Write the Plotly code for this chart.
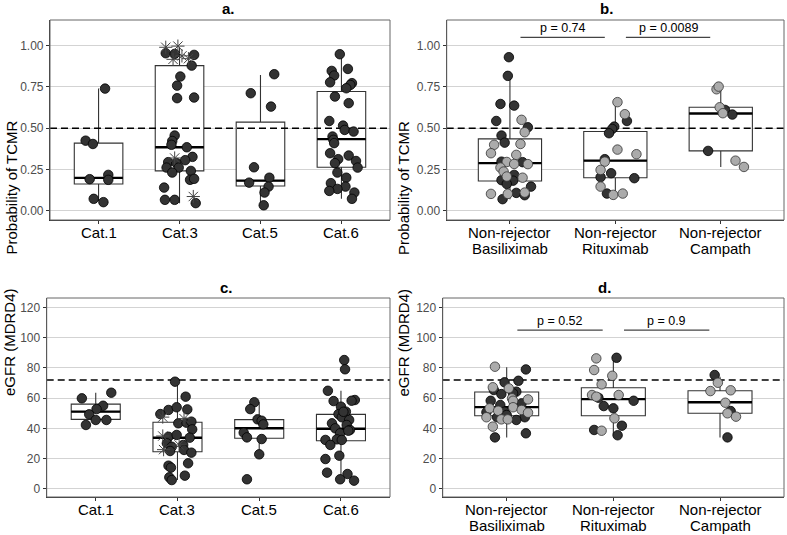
import plotly.graph_objects as go

# ---------------- data ----------------
CATS_AC = ["Cat.1", "Cat.3", "Cat.5", "Cat.6"]
CATS_BD = [["Non-rejector", "Basiliximab"], ["Non-rejector", "Rituximab"], ["Non-rejector", "Campath"]]

# Panel a: Probability of TCMR by category
A_Q1 = [0.163, 0.242, 0.151, 0.264]
A_MED = [0.200, 0.385, 0.183, 0.434]
A_Q3 = [0.410, 0.879, 0.537, 0.722]
A_LO = [0.060, 0.047, 0.034, 0.073]
A_HI = [0.740, 0.990, 0.823, 0.948]
A_VALS = [
    [0.740, 0.425, 0.405, 0.192, 0.218, 0.188, 0.073, 0.053],
    [0.954, 0.950, 0.944, 0.879, 0.813, 0.758, 0.682, 0.686, 0.456, 0.423, 0.400, 0.385, 0.327,
     0.307, 0.295, 0.290, 0.262, 0.262, 0.232, 0.242, 0.188, 0.194, 0.141, 0.067, 0.067, 0.047],
    [0.827, 0.712, 0.631, 0.264, 0.171, 0.201, 0.147, 0.111, 0.034],
    [0.948, 0.847, 0.859, 0.819, 0.778, 0.773, 0.762, 0.742, 0.692, 0.652, 0.544, 0.516, 0.490,
     0.480, 0.450, 0.430, 0.410, 0.349, 0.335, 0.313, 0.289, 0.302, 0.262, 0.232, 0.201, 0.168,
     0.147, 0.133, 0.121, 0.111, 0.073],
]
A_JIT = [
    [0.08, -0.16, -0.07, -0.11, 0.12, 0.12, -0.06, 0.06],
    [-0.17, -0.06, 0.18, 0.15, 0.01, -0.03, -0.03, 0.18, -0.06, -0.09, -0.10, 0.09, 0.16,
     0.07, -0.14, -0.04, -0.16, -0.01, -0.09, 0.14, 0.13, 0.18, -0.19, -0.18, -0.06, 0.20],
    [0.17, -0.12, 0.13, -0.08, -0.14, 0.11, 0.10, 0.05, 0.04],
    [-0.02, -0.12, 0.08, -0.09, -0.14, 0.13, 0.11, 0.06, -0.08, 0.09, -0.15, 0.02, 0.04,
     0.15, -0.11, -0.10, -0.09, -0.14, 0.09, -0.04, -0.08, 0.18, 0.20, -0.05, 0.06, -0.13,
     0.05, -0.05, -0.15, 0.16, 0.13],
]
A_STAR_CAT = [2, 2, 2, 2, 2, 2, 2]
A_STAR_VALS = [0.990, 0.997, 0.917, 0.938, 0.921, 0.320, 0.087]
A_STAR_JIT = [-0.17, -0.02, -0.08, 0.03, 0.11, -0.06, 0.17]

# Panel b: Probability of TCMR by treatment (dark / light points)
B_Q1 = [0.181, 0.201, 0.363]
B_MED = [0.289, 0.304, 0.589]
B_Q3 = [0.436, 0.480, 0.627]
B_LO = [0.071, 0.097, 0.266]
B_HI = [0.817, 0.658, 0.748]
B_DARK_VALS = [
    [0.930, 0.817, 0.647, 0.637, 0.544, 0.506, 0.456, 0.413, 0.298, 0.295, 0.218, 0.186, 0.183,
     0.163, 0.147, 0.109, 0.095, 0.071],
    [0.544, 0.510, 0.496, 0.470, 0.313, 0.228, 0.204, 0.198, 0.105],
    [0.611, 0.583, 0.363],
]
B_DARK_JIT = [
    [-0.01, -0.02, -0.09, 0.04, -0.13, 0.17, -0.08, -0.05, -0.08, 0.12, 0.04, -0.08, 0.03,
     -0.03, 0.20, 0.06, 0.14, -0.07],
    [0.11, -0.01, -0.03, -0.06, -0.10, -0.04, -0.14, 0.18, -0.08],
    [0.04, 0.11, -0.12],
]
B_LIGHT_VALS = [
    [0.551, 0.476, 0.400, 0.405, 0.349, 0.339, 0.296, 0.284, 0.283, 0.262, 0.238, 0.208, 0.201,
     0.103, 0.103, 0.111],
    [0.658, 0.585, 0.371, 0.343, 0.298, 0.248, 0.147, 0.097, 0.105],
    [0.736, 0.752, 0.627, 0.591, 0.304, 0.266],
]
B_LIGHT_JIT = [
    [0.11, 0.14, -0.15, 0.10, -0.18, 0.06, -0.03, 0.04, 0.17, -0.09, -0.06, -0.03, 0.12,
     -0.18, -0.02, 0.14],
    [0.02, 0.09, 0.02, 0.20, -0.10, -0.14, -0.14, -0.02, 0.07],
    [-0.04, -0.02, -0.01, 0.02, 0.14, 0.22],
]
B_PVALS = ["p = 0.74", "p = 0.0089"]
B_PAIRS = [(1, 2), (2, 3)]
B_BRACKET_Y = 1.05

# Panel c: eGFR by category
C_Q1 = [46.0, 24.6, 33.5, 31.9]
C_MED = [51.1, 33.9, 40.1, 39.8]
C_Q3 = [56.1, 44.1, 45.8, 49.3]
C_LO = [42.7, 5.9, 22.9, 5.9]
C_HI = [63.6, 70.9, 57.3, 64.9]
C_VALS = [
    [59.9, 63.6, 55.0, 52.8, 49.3, 42.3, 45.6, 45.6],
    [70.9, 61.0, 52.2, 54.0, 52.6, 49.5, 43.4, 43.8, 44.5, 39.4, 34.5, 35.7, 33.9, 30.2, 27.9,
     29.1, 25.1, 25.8, 24.0, 17.0, 15.4, 14.1, 7.7, 5.9, 8.8],
    [57.3, 52.8, 46.0, 45.1, 42.7, 37.2, 34.1, 33.0, 22.9, 6.4],
    [85.2, 79.1, 64.9, 58.1, 58.8, 58.3, 54.4, 49.5, 51.1, 47.4, 45.6, 43.4, 42.3, 40.1, 39.0,
     36.8, 32.4, 32.8, 32.4, 29.1, 19.8, 22.0, 10.8, 9.9, 6.4, 5.5, 51.0, 38.5],
]
C_JIT = [
    [-0.17, 0.19, 0.09, 0.01, -0.08, -0.12, 0.00, 0.13],
    [-0.03, 0.10, -0.11, -0.01, 0.12, -0.21, 0.01, 0.11, 0.17, 0.18, -0.11, -0.01, 0.15, -0.13,
     -0.07, 0.07, -0.09, 0.08, 0.17, 0.13, -0.11, -0.08, -0.10, -0.07, 0.09],
    [-0.06, -0.11, -0.02, 0.03, 0.05, -0.19, -0.15, 0.03, 0.00, -0.15],
    [0.04, 0.05, -0.16, -0.09, 0.17, 0.13, 0.00, -0.03, 0.06, 0.01, 0.10, -0.11, 0.07, -0.07,
     0.11, -0.01, -0.19, -0.05, 0.01, -0.13, -0.19, -0.02, -0.17, 0.08, -0.01, 0.16, 0.03, 0.09],
]
C_STAR_CAT = [2, 2, 2, 2, 2]
C_STAR_VALS = [47.5, 46.5, 35.0, 26.0, 29.1]
C_STAR_JIT = [-0.18, 0.08, -0.18, -0.17, 0.02]

# Panel d: eGFR by treatment
D_Q1 = [48.4, 48.4, 50.0]
D_MED = [54.1, 59.4, 57.3]
D_Q3 = [64.1, 66.9, 64.9]
D_LO = [34.1, 35.7, 34.1]
D_HI = [80.4, 86.7, 74.2]
D_DARK_VALS = [
    [79.0, 70.5, 71.5, 65.4, 64.3, 62.7, 63.2, 58.3, 56.6, 55.5, 50.7, 51.1, 47.4, 48.9, 47.4,
     45.6, 34.1, 36.8],
    [86.7, 60.3, 58.3, 54.8, 53.3, 41.8, 39.0, 35.5],
    [75.3, 51.5, 34.1],
]
D_DARK_JIT = [
    [0.18, -0.02, 0.11, -0.12, 0.09, -0.05, 0.06, -0.15, 0.14, -0.06, -0.19, -0.02, -0.09, 0.00,
     0.17, 0.09, -0.11, 0.18],
    [0.03, -0.14, 0.19, -0.09, 0.00, 0.08, -0.18, 0.04],
    [-0.05, 0.10, 0.07],
]
D_LIGHT_VALS = [
    [80.8, 67.2, 66.5, 59.9, 59.2, 58.3, 53.3, 54.0, 51.7, 52.2, 50.4, 47.4, 46.0, 46.0, 41.2],
    [86.3, 78.6, 74.8, 69.1, 62.1, 62.1, 61.0, 46.7, 38.5],
    [70.2, 64.7, 65.2, 57.0, 50.0, 47.8],
]
D_LIGHT_JIT = [
    [-0.11, -0.13, 0.02, 0.05, 0.20, 0.06, -0.16, 0.06, -0.08, 0.14, 0.20, -0.19, -0.05, 0.01,
     -0.13],
    [-0.16, -0.18, -0.01, -0.11, -0.20, 0.05, -0.16, 0.01, -0.11],
    [-0.02, -0.09, 0.10, 0.05, 0.07, 0.15],
]
D_PVALS = ["p = 0.52", "p = 0.9"]
D_PAIRS = [(1, 2), (2, 3)]
D_BRACKET_Y = 105

TITLES = ["a.", "b.", "c.", "d."]
YTITLE_TOP = "Probability of TCMR"
YTITLE_BOT = "eGFR (MDRD4)"
TOP_TICKS = [0, 0.25, 0.5, 0.75, 1.0]
TOP_TICKTEXT = ["0.00", "0.25", "0.50", "0.75", "1.00"]
BOT_TICKS = [0, 20, 40, 60, 80, 100, 120]
TOP_THRESHOLD = 0.5
BOT_THRESHOLD = 72

# ---------------- layout geometry (page pixels) ----------------
W, H = 787, 535
FONT = "Liberation Sans, Arial, sans-serif"
DARK = "#333333"
LIGHT = "#ababab"


def fx(px):
    return px / W


def fy(py):
    return (H - py) / H


panels = [
    dict(x0=50.0, x1=390.0, y0=20.0, y1=220.0, ytx=10.5),
    dict(x0=446.7, x1=784.0, y0=20.0, y1=220.0, ytx=403.0),
    dict(x0=46.7, x1=390.0, y0=298.0, y1=497.0, ytx=9.5),
    dict(x0=442.7, x1=784.0, y0=298.0, y1=497.0, ytx=403.0),
]

fig = go.Figure()


def ax_names(i):
    s = "" if i == 0 else str(i + 1)
    return "x" + s, "y" + s


def add_panel(i, n, q1, med, q3, lo, hi, thr):
    xa, ya = ax_names(i)
    xs = list(range(1, n + 1))
    fig.add_trace(go.Box(
        x=xs, q1=q1, median=med, q3=q3, lowerfence=lo, upperfence=hi,
        width=0.6, fillcolor="white", line=dict(color=DARK, width=1.1),
        whiskerwidth=0, boxpoints=False, hoverinfo="skip", showlegend=False,
        xaxis=xa, yaxis=ya))
    mx, my = [], []
    for c, m in zip(xs, med):
        mx += [c - 0.3, c + 0.3, None]
        my += [m, m, None]
    fig.add_trace(go.Scatter(x=mx, y=my, mode="lines", line=dict(color="black", width=2.4),
                             hoverinfo="skip", showlegend=False, xaxis=xa, yaxis=ya))
    fig.add_trace(go.Scatter(x=[0.4, n + 0.6], y=[thr, thr], mode="lines",
                             line=dict(color="black", width=1.4, dash="7px,4px"),
                             hoverinfo="skip", showlegend=False, xaxis=xa, yaxis=ya))


def add_points(i, vals, jit, fill, outline):
    xa, ya = ax_names(i)
    px, py = [], []
    for k, (vs, js) in enumerate(zip(vals, jit)):
        for v, j in zip(vs, js):
            px.append(k + 1 + j)
            py.append(v)
    fig.add_trace(go.Scatter(x=px, y=py, mode="markers",
                             marker=dict(size=9.5, color=fill, line=dict(color=outline, width=0.8)),
                             hoverinfo="skip", showlegend=False, xaxis=xa, yaxis=ya))


def add_stars(i, cats, vals, jit):
    xa, ya = ax_names(i)
    fig.add_trace(go.Scatter(x=[c + j for c, j in zip(cats, jit)], y=vals, mode="markers",
                             marker=dict(symbol="asterisk-open", size=11, color="#444444",
                                         line=dict(color="#444444", width=1)),
                             hoverinfo="skip", showlegend=False, xaxis=xa, yaxis=ya))


def add_brackets(i, pairs, labels, yb):
    xa, ya = ax_names(i)
    for (a, b), lab in zip(pairs, labels):
        fig.add_trace(go.Scatter(x=[a + 0.1, b - 0.1], y=[yb, yb], mode="lines",
                                 line=dict(color="#444444", width=1.3),
                                 hoverinfo="skip", showlegend=False, xaxis=xa, yaxis=ya))
        fig.add_annotation(x=(a + b) / 2, y=yb, xref=xa, yref=ya, text=lab, showarrow=False,
                           yanchor="bottom", yshift=0, font=dict(size=12.5, color="black", family=FONT))


add_panel(0, 4, A_Q1, A_MED, A_Q3, A_LO, A_HI, TOP_THRESHOLD)
add_points(0, A_VALS, A_JIT, DARK, "black")
add_stars(0, A_STAR_CAT, A_STAR_VALS, A_STAR_JIT)

add_panel(1, 3, B_Q1, B_MED, B_Q3, B_LO, B_HI, TOP_THRESHOLD)
add_points(1, B_DARK_VALS, B_DARK_JIT, DARK, "black")
add_points(1, B_LIGHT_VALS, B_LIGHT_JIT, LIGHT, DARK)
add_brackets(1, B_PAIRS, B_PVALS, B_BRACKET_Y)

add_panel(2, 4, C_Q1, C_MED, C_Q3, C_LO, C_HI, BOT_THRESHOLD)
add_points(2, C_VALS, C_JIT, DARK, "black")
add_stars(2, C_STAR_CAT, C_STAR_VALS, C_STAR_JIT)

add_panel(3, 3, D_Q1, D_MED, D_Q3, D_LO, D_HI, BOT_THRESHOLD)
add_points(3, D_DARK_VALS, D_DARK_JIT, DARK, "black")
add_points(3, D_LIGHT_VALS, D_LIGHT_JIT, LIGHT, DARK)
add_brackets(3, D_PAIRS, D_PVALS, D_BRACKET_Y)

layout = dict(width=W, height=H, margin=dict(l=0, r=0, t=0, b=0),
              paper_bgcolor="white", plot_bgcolor="white", showlegend=False,
              font=dict(family=FONT, color="black"))

for i, p in enumerate(panels):
    s = "" if i == 0 else str(i + 1)
    n = 4 if i in (0, 2) else 3
    top = i < 2
    layout["xaxis" + s] = dict(
        domain=[fx(p["x0"]), fx(p["x1"])], anchor="y" + s, range=[0.4, n + 0.6],
        tickvals=list(range(1, n + 1)), showticklabels=False, ticks="outside", ticklen=3,
        tickcolor=DARK, showgrid=False, zeroline=False, showline=True, linecolor=DARK,
        linewidth=1.2, fixedrange=True)
    layout["yaxis" + s] = dict(
        domain=[fy(p["y1"]), fy(p["y0"])], anchor="x" + s,
        range=[-0.055, 1.155] if top else [-5.3, 126.2],
        tickvals=TOP_TICKS if top else BOT_TICKS,
        ticktext=TOP_TICKTEXT if top else [str(v) for v in BOT_TICKS],
        tickfont=dict(size=12, color="#4d4d4d", family=FONT), ticks="outside", ticklen=3,
        tickcolor=DARK, showgrid=True, gridcolor="#d3d3d3", gridwidth=1, zeroline=False,
        showline=True, linecolor=DARK, linewidth=1.2, fixedrange=True)

fig.update_layout(**layout)

shapes = []
annotations = list(fig.layout.annotations)
for i, p in enumerate(panels):
    xa, ya = ax_names(i)
    n = 4 if i in (0, 2) else 3
    shapes.append(dict(type="rect", xref=xa + " domain", yref=ya + " domain", x0=0, x1=1, y0=0, y1=1,
                       line=dict(color="#666666", width=1), layer="above"))
    annotations.append(dict(x=fx((p["x0"] + p["x1"]) / 2), y=fy(p["y0"] - 11), xref="paper",
                            yref="paper", text="<b>%s</b>" % TITLES[i], showarrow=False,
                            yanchor="middle", font=dict(size=15, color="black", family=FONT)))
    annotations.append(dict(x=fx(p["ytx"]),
                            y=fy((p["y0"] + p["y1"]) / 2), xref="paper", yref="paper",
                            text=YTITLE_TOP if i < 2 else YTITLE_BOT, textangle=-90,
                            showarrow=False, xanchor="center", borderpad=0,
                            font=dict(size=15, color="black", family=FONT)))
    # category labels under the panel
    for k in range(n):
        lines = [CATS_AC[k]] if n == 4 else CATS_BD[k]
        for li, txt in enumerate(lines):
            annotations.append(dict(x=k + 1, y=fy(p["y1"] + 12 + 16 * li), xref=xa, yref="paper",
                                    text=txt, showarrow=False, yanchor="middle",
                                    font=dict(size=15, color="black", family=FONT)))
fig.update_layout(shapes=shapes, annotations=annotations)

fig.write_html("out.html", post_script="document.body.style.margin='0px';",
               config={"displayModeBar": False})
